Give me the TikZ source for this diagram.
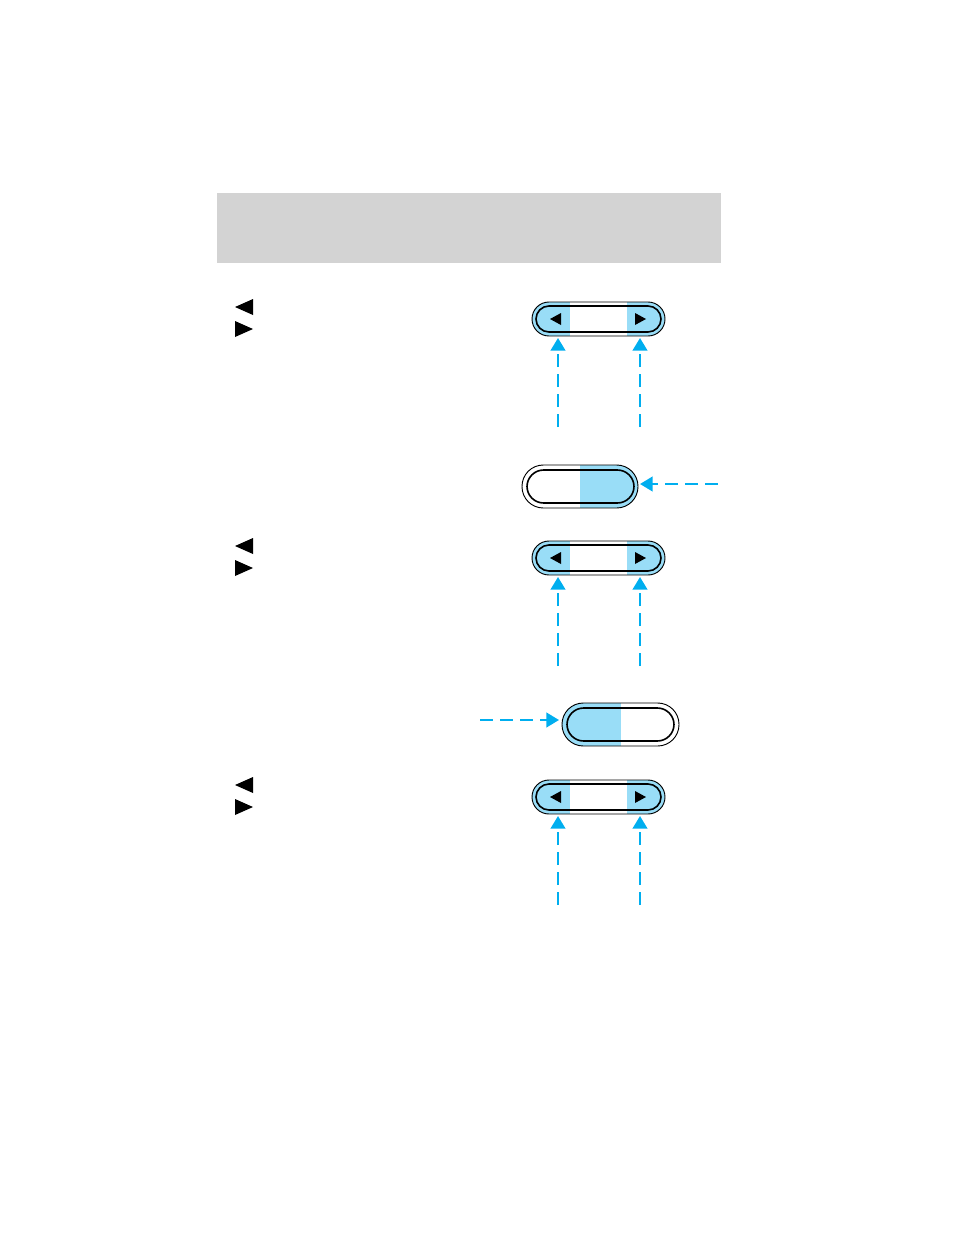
\documentclass[tikz,border=0pt]{standalone}
\usetikzlibrary{arrows.meta}
\definecolor{hdr}{HTML}{D3D3D3}
\definecolor{cyanline}{HTML}{00AEEF}
\definecolor{lblue}{HTML}{99DDF7}
\tikzset{
  callout/.style={draw=cyanline, line width=1.7pt, dash pattern=on 10pt off 5pt, -{Triangle[width=11pt,length=9.5pt]}},
  outerline/.style={draw=black, line width=0.7pt},
  innerline/.style={draw=black, line width=1.2pt},
  marker/.style={fill=black},
}
\begin{document}
\begin{tikzpicture}[x=0.75pt,y=-0.75pt]
\useasboundingbox (0,0) rectangle (954,1235);
% header
\fill[hdr] (217,193) rectangle (721,263);
% left triangle markers
\foreach \yy in {307,546,785}{
  \fill[marker] (253,\yy-8) -- (235,\yy) -- (253,\yy+8) -- cycle;
  \fill[marker] (235,\yy+22-8) -- (253,\yy+22) -- (235,\yy+22+8) -- cycle;
}
% small rockers
\foreach \c/\n in {319/1,558/2,797/3}{
  \begin{scope}
    \clip[rounded corners=12.75pt] (532,\c-17) rectangle (665,\c+17);
    \fill[lblue] (532,\c-17) rectangle (570,\c+17);
    \fill[lblue] (627,\c-17) rectangle (665,\c+17);
  \end{scope}
  \draw[outerline, rounded corners=12.75pt] (532,\c-17) rectangle (665,\c+17);
  \draw[innerline, rounded corners=9.75pt] (536,\c-13) rectangle (661,\c+13);
  \fill[black] (561,\c-6) -- (550,\c) -- (561,\c+6) -- cycle;
  \fill[black] (635,\c-6) -- (646,\c) -- (635,\c+6) -- cycle;
  \coordinate (L\n) at (558,\c+19);
  \coordinate (R\n) at (640,\c+19);
  \coordinate (LS\n) at (558,\c+108);
  \coordinate (RS\n) at (640,\c+108);
  \draw[callout] (LS\n) -- (L\n);
  \draw[callout] (RS\n) -- (R\n);
}
% big rocker 1 (right half blue)
\begin{scope}
  \clip[rounded corners=16pt] (522,465) rectangle (638,508);
  \fill[lblue] (580,465) rectangle (638,508);
\end{scope}
\draw[outerline, rounded corners=16pt] (522,465) rectangle (638,508);
\draw[innerline, rounded corners=12.5pt] (527,470) rectangle (634,503);
\coordinate (B1) at (640,484);
\coordinate (B1s) at (718,484);
\draw[callout] (B1s) -- (B1);
% big rocker 2 (left half blue)
\begin{scope}
  \clip[rounded corners=16pt] (562,703) rectangle (679,746);
  \fill[lblue] (562,703) rectangle (621,746);
\end{scope}
\draw[outerline, rounded corners=16pt] (562,703) rectangle (679,746);
\draw[innerline, rounded corners=12.5pt] (567,708) rectangle (674,741);
\coordinate (B2) at (559,720);
\coordinate (B2s) at (480,720);
\draw[callout] (B2s) -- (B2);
\end{tikzpicture}
\end{document}
